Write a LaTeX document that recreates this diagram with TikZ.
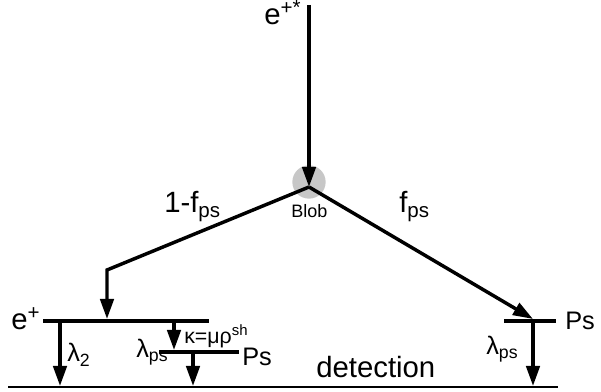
\documentclass[tikz,border=0pt]{standalone}
\usepackage{fontspec}
\setmainfont{Liberation Sans}
\usetikzlibrary{arrows.meta, positioning}
\tikzstyle{level}=[line width=2.8pt]
\tikzstyle{ground}=[line width=1.6pt]
\tikzstyle{decay}=[line width=2.6pt, -{Triangle[length=15pt, width=10pt]}]
\tikzstyle{blob}=[circle, fill=black!22, minimum size=25pt, inner sep=0pt]
\tikzstyle{big}=[inner sep=0pt, anchor=base west, font=\fontsize{22}{26}\selectfont]
\tikzstyle{mid}=[inner sep=0pt, anchor=base west, font=\fontsize{19}{22}\selectfont]
\tikzstyle{small}=[inner sep=0pt, anchor=base west, font=\fontsize{16}{19}\selectfont]
\tikzstyle{tiny}=[inner sep=0pt, anchor=base west, font=\fontsize{13.5}{16}\selectfont]

\begin{document}
\begin{tikzpicture}[x=0.75pt, y=-0.75pt]
			\useasboundingbox (0,0) rectangle (601,392);
			\node[blob] (blob) at (309,182) {};
			\coordinate (src) at (309,5);
			\coordinate (hub) at (309,187);
			\coordinate (bend) at (107,270);
			\coordinate (eIn) at (107,319);
			\coordinate (psIn) at (533,319);
			\coordinate (eL) at (43,321);
			\coordinate (eR) at (209,321);
			\coordinate (psL) at (159,352);
			\coordinate (psR) at (239,352);
			\coordinate (pL) at (504,321);
			\coordinate (pR) at (556,321);
			\coordinate (detL) at (8,387);
			\coordinate (detR) at (558,387);
			\coordinate (lamA) at (60,321);
			\coordinate (lamB) at (60,386);
			\coordinate (kapA) at (174,321);
			\coordinate (kapB) at (174,350);
			\coordinate (psA) at (193,352);
			\coordinate (psB) at (193,386);
			\coordinate (pA) at (533,321);
			\coordinate (pB) at (533,386);
			\draw[level] (eL) -- (eR);
			\draw[level] (psL) -- (psR);
			\draw[level] (pL) -- (pR);
			\draw[ground] (detL) -- (detR);
			\draw[decay] (src) -- (hub);
			\draw[decay] (hub) -- (bend) -- (eIn);
			\draw[decay] (hub) -- (psIn);
			\foreach \a/\b in {lamA/lamB, kapA/kapB, psA/psB, pA/pB}{
				\draw[decay] (\a) -- (\b);
			}
			\node[big] (eStar) at (264,25) {e\textsuperscript{+*}};
			\node[tiny] (blobTxt) at (291,218) {Blob};
			\node[big] (oneMinus) at (164,213) {1-f\textsubscript{ps}};
			\node[big] (fps) at (399,213) {f\textsubscript{ps}};
			\node[big] (ePlus) at (11,330) {e\textsuperscript{+}};
			\node[mid] (lamTwo) at (67,362) {λ\textsubscript{2}};
			\node[mid] (lamPsL) at (136,358) {λ\textsubscript{ps}};
			\node[small] (kappa) at (184,344) {κ=μρ\textsuperscript{sh}};
			\node[mid] (psTxtL) at (242,366) {Ps};
			\node[mid] (psTxtR) at (565,330) {Ps};
			\node[mid] (lamPsR) at (486,355) {λ\textsubscript{ps}};
			\node[big] (det) at (316,378) {detection};
		\end{tikzpicture}
\end{document}
